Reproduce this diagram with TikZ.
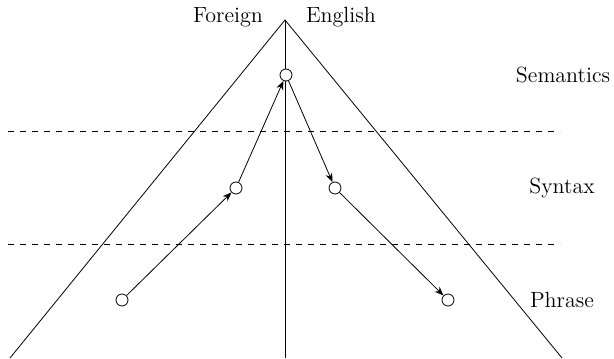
\documentclass[tikz,border=0pt]{standalone}
\usetikzlibrary{arrows.meta}

\begin{document}
\begin{tikzpicture}[x=0.5pt,y=-0.5pt,>={Stealth[length=4.5pt,width=3.5pt]},
  state/.style={shape=circle,draw,fill=white,inner sep=0pt,minimum size=6pt},
  lbl/.style={font=\fontsize{11}{13}\selectfont},
  level/.style={dashed,line width=0.4pt}]
\useasboundingbox (0,0) rectangle (614,358);
% pyramid
\coordinate (top) at (285,20);
\coordinate (bl) at (10,358);
\coordinate (br) at (562,358);
\coordinate (bm) at (285,358);
\draw (bl)--(top)--(br);
\draw (top)--(bm);
% levels
\draw[level](8,131)--(560,131);
\draw[level](8,244)--(560,244);
% labels
\draw(228,17)node[lbl](foreign){Foreign}
(341,17)node[lbl](english){English}
(563,75)node[lbl](sem){Semantics}
(562,188)node[lbl](syn){Syntax}
(562,300)node[lbl](phr){Phrase};
% states
\node[state](fphr) at (122,300){};
\node[state](fsyn) at (236,188){};
\node[state](isem) at (286,75){};
\node[state](esyn) at (335,188){};
\node[state](ephr) at (448,300){};
\draw[->](fphr)--(fsyn);
\draw[->](fsyn)--(isem);
\draw[->](isem)--(esyn);
\draw[->](esyn)--(ephr);
\end{tikzpicture}
\end{document}
